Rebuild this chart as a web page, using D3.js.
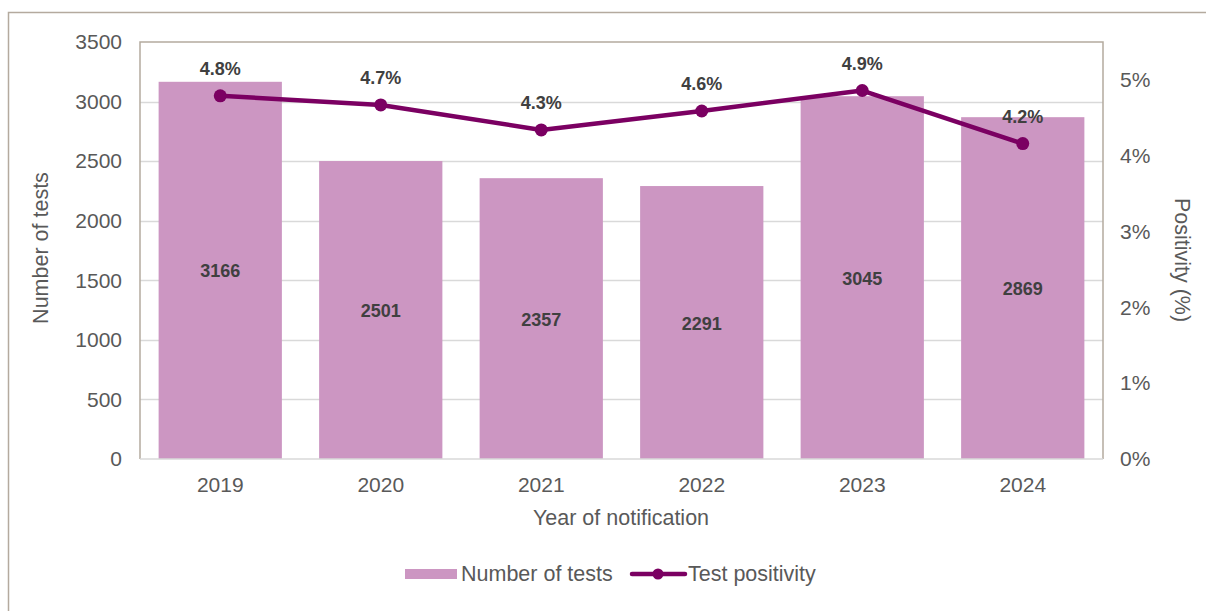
<!DOCTYPE html>
<html>
<head>
<meta charset="utf-8">
<script src="https://cdn.jsdelivr.net/npm/d3@7"></script>
<style>
  html, body { margin: 0; padding: 0; background: #fff; }
  svg { display: block; font-family: Arial, "Liberation Sans", sans-serif; }
</style>
</head>
<body>
<svg id="chart" width="1206" height="611"></svg>
<script>
// Tests notified per year and the share that were positive
const years = ["2019", "2020", "2021", "2022", "2023", "2024"];
const testCounts = [3166, 2501, 2357, 2291, 3045, 2869];
const positivity = [4.79, 4.67, 4.34, 4.59, 4.86, 4.16];
const leftTicks = [0, 500, 1000, 1500, 2000, 2500, 3000, 3500];
const rightTicks = [0, 1, 2, 3, 4, 5];

const barColor = "#cc96c2";
const lineColor = "#7b0062";
const frameColor = "#b4aa9e";
const tickColor = "#595959";
const labelColor = "#404040";
const fontSize = 21;
const titleSize = 21.5;
const valueSize = 18;

const svg = d3.select("#chart");
const plot = { left: 140, right: 1103, top: 42, bottom: 459 };

const x = d3.scaleBand().domain(years).range([plot.left, plot.right]).paddingInner(0.232).paddingOuter(0.116);
const yL = d3.scaleLinear().domain([0, 3500]).range([plot.bottom, plot.top]);
const yR = d3.scaleLinear().domain([0, 5.5]).range([plot.bottom, plot.top]);

// Outer frame (top and left edges only)
svg.append("path")
  .attr("d", `M8.5,611 V12.5 H1206`)
  .attr("fill", "none").attr("stroke", frameColor).attr("stroke-width", 1.5);

// Gridlines from the left axis
svg.append("g").selectAll("line").data(leftTicks.filter(d => d > 0 && d < 3500)).join("line")
  .attr("x1", plot.left).attr("x2", plot.right)
  .attr("y1", d => Math.round(yL(d)) + 0.5).attr("y2", d => Math.round(yL(d)) + 0.5)
  .attr("stroke", "#d9d9d9").attr("stroke-width", 1.5);

// Bars
svg.append("g").selectAll("rect").data(years).join("rect")
  .attr("x", d => x(d))
  .attr("width", x.bandwidth())
  .attr("y", (d, i) => yL(testCounts[i]))
  .attr("height", (d, i) => yL(0) - yL(testCounts[i]))
  .attr("fill", barColor);

// Plot area frame: left, top, right
svg.append("path")
  .attr("d", `M${plot.left},${plot.bottom} V${plot.top} H${plot.right} V${plot.bottom}`)
  .attr("fill", "none").attr("stroke", frameColor).attr("stroke-width", 1.5);
// Baseline
svg.append("line")
  .attr("x1", plot.left).attr("x2", plot.right)
  .attr("y1", plot.bottom).attr("y2", plot.bottom)
  .attr("stroke", "#d9d9d9").attr("stroke-width", 1.5);

// Left axis
const axL = svg.append("g").attr("transform", `translate(${plot.left},0)`)
  .call(d3.axisLeft(yL).tickValues(leftTicks).tickSize(0).tickPadding(18).tickFormat(d3.format("d")));
axL.select(".domain").remove();
axL.selectAll("text").attr("fill", tickColor).attr("font-size", fontSize);

// Right axis
const axR = svg.append("g").attr("transform", `translate(${plot.right},0)`)
  .call(d3.axisRight(yR).tickValues(rightTicks).tickSize(0).tickPadding(17).tickFormat(d => d + "%"));
axR.select(".domain").remove();
axR.selectAll("text").attr("fill", tickColor).attr("font-size", fontSize);

// Bottom axis
const axB = svg.append("g").attr("transform", `translate(0,${plot.bottom})`)
  .call(d3.axisBottom(x).tickSize(0).tickPadding(18));
axB.select(".domain").remove();
axB.selectAll("text").attr("fill", tickColor).attr("font-size", fontSize);

// Axis titles
svg.append("text").attr("x", 621).attr("y", 525).attr("text-anchor", "middle")
  .attr("fill", tickColor).attr("font-size", titleSize).text("Year of notification");
svg.append("text").attr("transform", "translate(48,248) rotate(-90)").attr("text-anchor", "middle")
  .attr("fill", tickColor).attr("font-size", titleSize).text("Number of tests");
svg.append("text").attr("transform", "translate(1175,260) rotate(90)").attr("text-anchor", "middle")
  .attr("fill", tickColor).attr("font-size", titleSize).text("Positivity (%)");

// Bar value labels at mid-height
svg.append("g").selectAll("text").data(years).join("text")
  .attr("x", d => x(d) + x.bandwidth() / 2)
  .attr("y", (d, i) => (yL(testCounts[i]) + yL(0)) / 2 + 7)
  .attr("text-anchor", "middle").attr("font-weight", "bold").attr("font-size", valueSize)
  .attr("fill", labelColor)
  .text((d, i) => testCounts[i]);

// Positivity line
const line = d3.line().x((d, i) => x(years[i]) + x.bandwidth() / 2).y(d => yR(d));
svg.append("path").datum(positivity).attr("d", line)
  .attr("fill", "none").attr("stroke", lineColor).attr("stroke-width", 4.5).attr("stroke-linejoin", "round");
svg.append("g").selectAll("circle").data(positivity).join("circle")
  .attr("cx", (d, i) => x(years[i]) + x.bandwidth() / 2)
  .attr("cy", d => yR(d)).attr("r", 6.5).attr("fill", lineColor);

// Positivity labels above points
svg.append("g").selectAll("text").data(positivity).join("text")
  .attr("x", (d, i) => x(years[i]) + x.bandwidth() / 2)
  .attr("y", d => yR(d) - 21)
  .attr("text-anchor", "middle").attr("font-weight", "bold").attr("font-size", valueSize)
  .attr("fill", labelColor)
  .text(d => d3.format(".1f")(d) + "%");

// Legend
const lg = svg.append("g");
lg.append("rect").attr("x", 405).attr("y", 569).attr("width", 52).attr("height", 10).attr("fill", barColor);
lg.append("text").attr("x", 461).attr("y", 581).attr("fill", tickColor).attr("font-size", titleSize).text("Number of tests");
lg.append("line").attr("x1", 632).attr("x2", 685).attr("y1", 574).attr("y2", 574)
  .attr("stroke", lineColor).attr("stroke-width", 4.5).attr("stroke-linecap", "round");
lg.append("circle").attr("cx", 658).attr("cy", 574).attr("r", 5.5).attr("fill", lineColor);
lg.append("text").attr("x", 688).attr("y", 581).attr("fill", tickColor).attr("font-size", titleSize).text("Test positivity");
</script>
</body>
</html>
